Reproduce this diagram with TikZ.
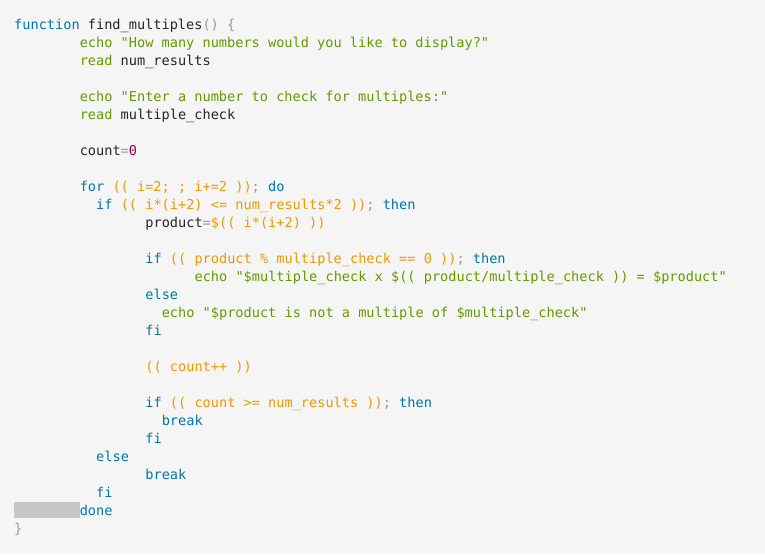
\documentclass[tikz,border=0pt]{standalone}
\usepackage{fontspec}
\setmonofont{DejaVu Sans Mono}
\definecolor{kwcolor}{HTML}{0077AA}
\definecolor{strcolor}{HTML}{669900}
\definecolor{opcolor}{HTML}{EE9900}
\definecolor{pucolor}{HTML}{999999}
\definecolor{numcolor}{HTML}{990055}
\definecolor{bgcolor}{HTML}{F5F5F5}
\newcommand{\kw}[1]{\textcolor{kwcolor}{#1}}
\newcommand{\st}[1]{\textcolor{strcolor}{#1}}
\newcommand{\op}[1]{\textcolor{opcolor}{#1}}
\newcommand{\pu}[1]{\textcolor{pucolor}{#1}}
\newcommand{\nm}[1]{\textcolor{numcolor}{#1}}

\begin{document}
\begin{tikzpicture}[x=1pt,y=-1pt,
                    codeline/.style={anchor=base west,inner sep=0pt,
                      font=\fontsize{13.6}{16}\ttfamily,text=black!85}]
  \useasboundingbox (0,0) rectangle (765,554);
  \fill[bgcolor] (0,0) rectangle (765,554);
  \fill[black!22] (14,502) rectangle (80,518);

  % line: column, row, text
  \foreach \c/\r/\t in {
    0/1/{\kw{function} find\_multiples\pu{() \{}},
    8/2/{\st{echo "How many numbers would you like to display?"}},
    8/3/{\st{read} num\_results},
    8/5/{\st{echo "Enter a number to check for multiples:"}},
    8/6/{\st{read} multiple\_check},
    8/8/{count\pu{=}\nm{0}},
    8/10/{\kw{for} \op{(( i=2; ; i+=2 ))}\pu{;} \kw{do}},
    10/11/{\kw{if} \op{(( i*(i+2) <= num\_results*2 ))}\pu{;} \kw{then}},
    16/12/{product\pu{=}\op{\$(( i*(i+2) ))}},
    16/14/{\kw{if} \op{(( product \% multiple\_check == 0 ))}\pu{;} \kw{then}},
    22/15/{\st{echo "\$multiple\_check x \$(( product/multiple\_check )) = \$product"}},
    16/16/{\kw{else}},
    18/17/{\st{echo "\$product is not a multiple of \$multiple\_check"}},
    16/18/{\kw{fi}},
    16/20/{\op{(( count++ ))}},
    16/22/{\kw{if} \op{(( count >= num\_results ))}\pu{;} \kw{then}},
    18/23/{\kw{break}},
    16/24/{\kw{fi}},
    10/25/{\kw{else}},
    16/26/{\kw{break}},
    10/27/{\kw{fi}},
    8/28/{\kw{done}},
    0/29/{\pu{\}}}}
    \node[codeline] (line\r) at ({14+\c*8.2},{29+(\r-1)*18}) {\t};
\end{tikzpicture}
\end{document}
